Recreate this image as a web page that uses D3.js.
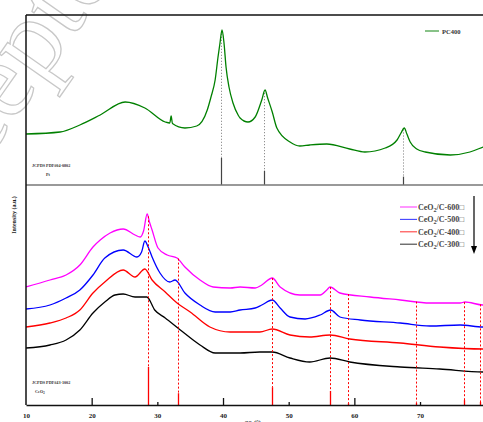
<!DOCTYPE html>
<html>
<head>
<meta charset="utf-8">
<script src="https://cdn.jsdelivr.net/npm/d3@7"></script>
<style>
  body { margin: 0; background: #fff; }
  svg { display: block; }
  text { font-family: "Liberation Serif", "Times New Roman", serif; }
</style>
</head>
<body>
<div id="chart"></div>
<script>
// ---- data: [2theta, intensity (a.u.)] ----
const pc400 = [[10,510],[15.2,530],[18.2,600],[21.3,700],[25.1,830],[28.1,770],[31.2,630],[31.9,620],[32.1,690],[32.3,615],
  [34.2,570],[36.0,590],[37.6,750],[38.17,880],[38.8,1050],[39.24,1280],[39.54,1420],[39.85,1550],[40.15,1420],[40.46,1180],
  [40.91,980],[41.52,820],[42.3,700],[42.6,670],[43.8,630],[44.9,680],[45.9,850],[46.4,950],[46.8,870],[47.5,730],[48.2,570],
  [50.2,430],[51.7,390],[53.2,400],[55.8,410],[59.3,360],[61.6,330],[64.7,370],[66.5,450],[67.1,520],[67.6,570],[68.0,510],
  [68.5,430],[69.5,360],[70.8,330],[74.6,300],[77.6,330],[79.6,380],[80,390]];

const ceo2_600 = [[10,1180],[13.65,1250],[16.1,1300],[18.2,1400],[20.2,1580],[21.3,1650],[22.8,1720],[24.8,1760],[26.6,1700],
  [27.4,1680],[27.9,1740],[28.45,1910],[28.8,1830],[29.2,1750],[30.1,1570],[31.5,1500],[33.0,1470],[34.2,1380],[36.5,1250],
  [38.5,1180],[41.1,1170],[42.6,1180],[44.9,1170],[45.9,1200],[47.5,1270],[48.7,1180],[51.7,1100],[54.8,1100],[55.8,1150],
  [56.3,1180],[57.8,1120],[62.4,1080],[67,1050],[71.5,1020],[76.1,1020],[76.85,1030],[79.6,1000],[80,1000]];

const ceo2_500 = [[10,960],[13.65,1000],[16.1,1070],[18.2,1150],[20.2,1300],[22.0,1470],[24.8,1550],[26.9,1480],[27.6,1530],
  [28.1,1640],[28.6,1580],[29.2,1480],[30.4,1320],[31.9,1230],[32.7,1250],[34.2,1120],[36.5,1000],[38.8,930],[41.1,930],
  [42.6,950],[44.9,970],[45.9,1000],[47.5,1050],[48.7,970],[50.2,880],[52.5,860],[54.8,900],[56.4,950],[57.8,880],[60.9,850],
  [67,820],[71.5,790],[76.1,800],[79.6,780],[80,780]];

const ceo2_400 = [[10,780],[13.65,820],[16.1,870],[18.2,950],[20.2,1120],[22.0,1230],[24.8,1350],[26.6,1280],[28.1,1360],
  [29.2,1250],[31.2,1130],[33.0,1020],[35.0,930],[38.0,780],[41.1,730],[42.6,730],[45.6,730],[47.5,760],[50.2,700],[53.2,680],
  [56.3,700],[59.3,660],[67,620],[73,580],[79.6,560],[80,560]];

const ceo2_300 = [[10,570],[13.65,600],[16.1,650],[18.2,750],[20.2,920],[22.0,1030],[23.55,1100],[24.8,1110],[26.6,1080],
  [28.4,1080],[29.6,950],[31.2,870],[33.5,750],[36.5,600],[38.8,520],[41.1,520],[42.6,520],[45.6,530],[47.5,530],[50.2,470],
  [53.2,430],[56.3,470],[59.3,430],[67,380],[73,360],[79.6,330],[80,330]];

// reference patterns
const ptRefPos = [39.76, 46.24, 67.45];
const ptRefInt = [100, 53, 31];
const ceRefPos = [28.55, 33.08, 47.48, 56.34, 59.09, 69.4, 76.7, 79.07];
const ceRefInt = [100, 31, 47, 37, 5, 6, 13, 8];

const xTicks = [10, 20, 30, 40, 50, 60, 70];
const ceSeries = [
  { name: '600', data: ceo2_600, color: '#ff00ff' },
  { name: '500', data: ceo2_500, color: '#0000ff' },
  { name: '400', data: ceo2_400, color: '#ff0000' },
  { name: '300', data: ceo2_300, color: '#000000' }
];

const width = 483, height = 422;
const svg = d3.select('#chart').append('svg')
  .attr('width', width)
  .attr('height', height);

// watermark
svg.append('text')
  .attr('transform', 'translate(-90,270) rotate(-55)')
  .attr('font-size', 110)
  .attr('fill', 'none')
  .attr('stroke', '#c8c8c8')
  .attr('stroke-width', 1.3)
  .text('Accepted Manuscript');

// scales
const x = d3.scaleLinear().domain([10, 80]).range([26, 485.7]);
const yTop = d3.scaleLinear().domain([0, 1700]).range([185, 15]);
const yBot = d3.scaleLinear().domain([0, 2200]).range([405, 185]);
const stickTop = d3.scaleLinear().domain([0, 100]).range([0, 27]);
const stickBot = d3.scaleLinear().domain([0, 100]).range([0, 38]);
const px = t => Math.round(x(t)) + 0.5; // snap thin vertical lines to pixels

svg.append('defs').append('clipPath').attr('id', 'plot')
  .append('rect').attr('x', 26).attr('y', 15).attr('width', 460).attr('height', 390);

const g = svg.append('g').attr('clip-path', 'url(#plot)');

// value of a series at a given 2theta (for the drop lines)
const bis = d3.bisector(d => d[0]).left;
function valueAt(data, t) {
  const i = Math.max(1, Math.min(data.length - 1, bis(data, t)));
  const a = data[i - 1], b = data[i];
  return a[1] + (b[1] - a[1]) * (t - a[0]) / (b[0] - a[0]);
}

// ---- top panel: Pt/C ----
ptRefPos.forEach((p, i) => {
  g.append('line')
    .attr('x1', px(p)).attr('x2', px(p))
    .attr('y1', yTop(valueAt(pc400, p))).attr('y2', 185 - stickTop(ptRefInt[i]))
    .attr('stroke', '#777').attr('stroke-width', 1).attr('stroke-dasharray', '1,2');
  g.append('line')
    .attr('x1', px(p)).attr('x2', px(p))
    .attr('y1', 185).attr('y2', 185 - stickTop(ptRefInt[i]))
    .attr('stroke', '#444').attr('stroke-width', 1.2);
});

const lineTop = d3.line().x(d => x(d[0])).y(d => yTop(d[1])).curve(d3.curveMonotoneX);
g.append('path').datum(pc400)
  .attr('d', lineTop)
  .attr('fill', 'none').attr('stroke', '#008000').attr('stroke-width', 1.3);

// ---- bottom panel: CeO2/C ----
const lineBot = d3.line().x(d => x(d[0])).y(d => yBot(d[1])).curve(d3.curveMonotoneX);
ceSeries.slice().reverse().forEach(s => {
  g.append('path').datum(s.data)
    .attr('d', lineBot)
    .attr('fill', 'none').attr('stroke', s.color).attr('stroke-width', 1.3);
});

ceRefPos.forEach((p, i) => {
  g.append('line')
    .attr('x1', px(p)).attr('x2', px(p))
    .attr('y1', yBot(valueAt(ceo2_600, p))).attr('y2', 405 - stickBot(ceRefInt[i]))
    .attr('stroke', '#ff0000').attr('stroke-width', 1).attr('stroke-dasharray', '2,2');
  g.append('line')
    .attr('x1', px(p)).attr('x2', px(p))
    .attr('y1', 405).attr('y2', 405 - stickBot(ceRefInt[i]))
    .attr('stroke', '#ff0000').attr('stroke-width', 1.3);
});

// ---- frame & axes ----
svg.append('line').attr('x1', 26).attr('x2', width).attr('y1', 15).attr('y2', 15)
  .attr('stroke', '#111').attr('stroke-width', 1.5);
svg.append('line').attr('x1', 26).attr('x2', width).attr('y1', 185).attr('y2', 185)
  .attr('stroke', '#777').attr('stroke-width', 1.5);
svg.append('line').attr('x1', 26).attr('x2', 26).attr('y1', 15).attr('y2', 405)
  .attr('stroke', '#111').attr('stroke-width', 1.5);

const xAxis = svg.append('g')
  .attr('transform', 'translate(0,405)')
  .call(d3.axisBottom(x).tickValues(xTicks).tickSizeOuter(0).tickSizeInner(0).tickPadding(8));
xAxis.select('.domain').attr('stroke', '#111').attr('stroke-width', 1.5);
xAxis.selectAll('.tick line')
  .attr('y2', d => d % 20 === 0 ? -7 : -3)
  .attr('stroke', '#111').attr('stroke-width', 1.3)
  .style('display', d => d === 10 ? 'none' : null);
xAxis.selectAll('.tick text')
  .attr('font-family', '"Liberation Serif", serif')
  .attr('font-size', 7).attr('font-weight', 'bold').attr('fill', '#222');

svg.append('text')
  .attr('x', 253).attr('y', 425)
  .attr('text-anchor', 'middle')
  .attr('font-size', 7).attr('font-weight', 'bold').attr('fill', '#222')
  .text('2θ (°)');

svg.append('text')
  .attr('transform', 'translate(16,215) rotate(-90)')
  .attr('text-anchor', 'middle')
  .attr('font-size', 6).attr('font-weight', 'bold').attr('fill', '#222')
  .text('Intensity (a.u.)');

// ---- reference labels ----
svg.append('text').attr('x', 32).attr('y', 167)
  .attr('font-size', 4.2).attr('font-weight', 'bold').attr('fill', '#333')
  .text('JCPDS PDF#04-0802');
svg.append('text').attr('x', 46).attr('y', 176)
  .attr('font-size', 4.2).attr('font-weight', 'bold').attr('fill', '#333')
  .text('Pt');
svg.append('text').attr('x', 32).attr('y', 384)
  .attr('font-size', 4.2).attr('font-weight', 'bold').attr('fill', '#333')
  .text('JCPDS PDF#43-1002');
const ceLbl = svg.append('text').attr('x', 35).attr('y', 393)
  .attr('font-size', 4.2).attr('font-weight', 'bold').attr('fill', '#333');
ceLbl.append('tspan').text('CeO');
ceLbl.append('tspan').attr('font-size', 3).attr('dy', 1).text('2');

// ---- legends ----
svg.append('line').attr('x1', 425).attr('x2', 439).attr('y1', 31).attr('y2', 31)
  .attr('stroke', '#3a9a3a').attr('stroke-width', 1.2);
svg.append('text').attr('x', 442).attr('y', 33.5)
  .attr('font-size', 6.5).attr('font-weight', 'bold').attr('fill', '#333')
  .text('PC400');

const legend = svg.append('g');
ceSeries.forEach((s, i) => {
  const yy = 207 + i * 12.4;
  legend.append('line').attr('x1', 400).attr('x2', 417).attr('y1', yy).attr('y2', yy)
    .attr('stroke', s.color).attr('stroke-width', 1.1).attr('stroke-opacity', 0.75);
  const t = legend.append('text').attr('x', 418).attr('y', yy + 3)
    .attr('font-size', 8).attr('font-weight', 'bold').attr('fill', '#444');
  t.append('tspan').text('CeO');
  t.append('tspan').attr('font-size', 6).attr('dy', 2).text('2');
  t.append('tspan').attr('dy', -2).text('/C-' + s.name + '□');
});

// arrow
svg.append('line').attr('x1', 474).attr('x2', 474).attr('y1', 196).attr('y2', 248)
  .attr('stroke', '#000').attr('stroke-width', 1.2);
svg.append('path').attr('d', 'M471,246 L477,246 L474,254 Z').attr('fill', '#000');
</script>
</body>
</html>
